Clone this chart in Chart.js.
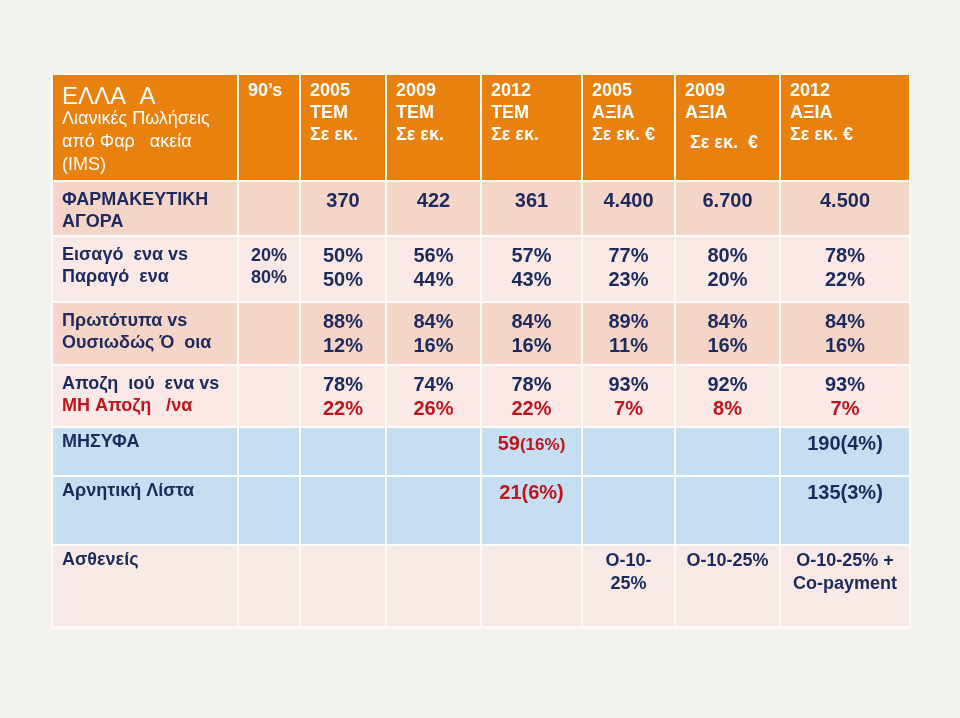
<!DOCTYPE html>
<html>
<head>
<meta charset="utf-8">
<title>Ελλάδα - Λιανικές Πωλήσεις από Φαρμακεία</title>
<script src="https://cdn.jsdelivr.net/npm/chart.js@4.4.1/dist/chart.umd.min.js"></script>
<style>
  html, body { margin: 0; padding: 0; background: #f4f3f0; }
  #wrap { width: 960px; height: 718px; }
</style>
</head>
<body>
<div id="wrap"><canvas id="table" width="960" height="718"></canvas></div>
<script>
// --- data ---
const titleLines = ["ΕΛΛΑ  Α", "Λιανικές Πωλήσεις", "από Φαρ   ακεία", "(IMS)"];
const periods = [
  "90’s",
  "2005\nTEM\nΣε εκ.",
  "2009\nTEM\nΣε εκ.",
  "2012\nTEM\nΣε εκ.",
  "2005\nΑΞΙΑ\nΣε εκ. €",
  "2009\nΑΞΙΑ\n Σε εκ.  €",
  "2012\nΑΞΙΑ\nΣε εκ. €",
];
const rowLabels = [
  ["ΦΑΡΜΑΚΕΥΤΙΚΗ", "ΑΓΟΡΑ"],
  ["Εισαγό  ενα vs", "Παραγό  ενα"],
  ["Πρωτότυπα vs", "Ουσιωδώς Ό  οια"],
  ["Αποζη  ιού  ενα vs", "ΜΗ Αποζη   /να"],
  ["ΜΗΣΥΦΑ"],
  ["Αρνητική Λίστα"],
  ["Ασθενείς"],
];
const marketSize = ["", "370", "422", "361", "4.400", "6.700", "4.500"];
const importedPct = [20, 50, 56, 57, 77, 80, 78];
const producedPct = [80, 50, 44, 43, 23, 20, 22];
const originalPct = [null, 88, 84, 84, 89, 84, 84];
const similarPct = [null, 12, 16, 16, 11, 16, 16];
const reimbursedPct = [null, 78, 74, 78, 93, 92, 93];
const nonReimbursedPct = [null, 22, 26, 22, 7, 8, 7];
const positiveListCount = [null, null, null, 59, null, null, 190];
const positiveListPct = [null, null, null, 16, null, null, 4];
const negativeListCount = [null, null, null, 21, null, null, 135];
const negativeListPct = [null, null, null, 6, null, null, 3];
const patientCopay = ["", "", "", "", "O-10-\n25%", "O-10-25%", "O-10-25% +\nCo-payment"];

// --- layout and style ---
const colWidths = [186, 62, 86, 95, 101, 93, 105, 130];
const rowHeights = [107, 55, 66, 63, 62, 49, 69, 82];
const ORANGE = "#e9810f";
const PINK_DARK = "#f6d5c9";
const PINK_LIGHT = "#fae9e6";
const BLUE = "#c4dff1";
const PINK_BOTTOM = "#faeae7";
const NAVY = "#1c2a5e";
const RED = "#c0141c";
const WHITE = "#ffffff";
const rowFills = [ORANGE, PINK_DARK, PINK_LIGHT, PINK_DARK, PINK_LIGHT, BLUE, BLUE, PINK_BOTTOM];
const listColors = [null, null, null, RED, null, null, NAVY];
const FAMILY = '"Liberation Sans", Arial, sans-serif';
const font = (size, bold) => `${bold ? "bold " : ""}${size}px ${FAMILY}`;

const colEdges = [0];
colWidths.forEach((w) => colEdges.push(colEdges[colEdges.length - 1] + w));
const rowEdges = [0];
rowHeights.forEach((h) => rowEdges.push(rowEdges[rowEdges.length - 1] + h));

function pct(v) {
  return v == null ? "" : `${v}%`;
}

function line(text, color, f) {
  return { parts: [{ text, color, font: f }] };
}

// every cell: row, col, alignment and lines of text
function buildCells() {
  const cells = [];

  cells.push({
    row: 0, col: 0, align: "left", top: 21, lh: 23,
    lines: titleLines.map((t, i) => line(t, WHITE, i === 0 ? font(24, false) : font(18, false))),
  });
  periods.forEach((p, i) => {
    const nudge = i === 5 ? [0, 0, 8] : [0, 0, 0];
    cells.push({
      row: 0, col: i + 1, align: "left", top: 16, lh: 22, nudge,
      lines: p.split("\n").map((t) => line(t, WHITE, font(18, true))),
    });
  });

  rowLabels.forEach((labels, r) => {
    cells.push({
      row: r + 1, col: 0, align: "left", top: r >= 4 ? 14 : 18, lh: 22,
      lines: labels.map((t, i) => line(t, r === 3 && i === 1 ? RED : NAVY, font(18, true))),
    });
  });

  const value = (t, color) => line(t, color || NAVY, font(20, true));
  const pairRow = (row, a, b, bColor) => {
    a.forEach((v, i) => {
      if (v == null) return;
      const f = i === 0 ? font(18, true) : font(20, true);
      cells.push({
        row, col: i + 1, align: "center", top: 19, lh: i === 0 ? 22 : 24,
        lines: [line(pct(v), NAVY, f), line(pct(b[i]), bColor, f)],
      });
    });
  };

  marketSize.forEach((v, i) => {
    if (!v) return;
    cells.push({ row: 1, col: i + 1, align: "center", top: 19, lh: 24, lines: [value(v)] });
  });
  pairRow(2, importedPct, producedPct, NAVY);
  pairRow(3, originalPct, similarPct, NAVY);
  pairRow(4, reimbursedPct, nonReimbursedPct, RED);

  positiveListCount.forEach((v, i) => {
    if (v == null) return;
    const color = listColors[i];
    const small = color === RED;
    cells.push({
      row: 5, col: i + 1, align: "center", top: 16, lh: 24,
      lines: [{ parts: [
        { text: String(v), color, font: font(20, true) },
        { text: `(${positiveListPct[i]}%)`, color, font: small ? font(17, true) : font(20, true) },
      ] }],
    });
  });
  negativeListCount.forEach((v, i) => {
    if (v == null) return;
    cells.push({
      row: 6, col: i + 1, align: "center", top: 16, lh: 24,
      lines: [value(`${v}(${negativeListPct[i]}%)`, listColors[i])],
    });
  });
  patientCopay.forEach((v, i) => {
    if (!v) return;
    cells.push({
      row: 7, col: i + 1, align: "center", top: 15, lh: 23,
      lines: v.split("\n").map((t) => line(t, NAVY, font(18, true))),
    });
  });
  return cells;
}

const cells = buildCells();

function cellBox(chart, row, col) {
  const x = chart.scales.x;
  const y = chart.scales.y;
  return {
    left: x.getPixelForValue(colEdges[col]),
    right: x.getPixelForValue(colEdges[col + 1]),
    top: y.getPixelForValue(rowEdges[row]),
    bottom: y.getPixelForValue(rowEdges[row + 1]),
  };
}

const tablePlugin = {
  id: "tablePlugin",
  beforeDatasetsDraw(chart) {
    const ctx = chart.ctx;
    const area = chart.chartArea;
    ctx.save();
    ctx.fillStyle = "#fdfbf8";
    ctx.fillRect(area.left - 1, area.top - 1, area.right - area.left + 2, area.bottom - area.top + 3);
    rowHeights.forEach((_, r) => {
      colWidths.forEach((__, c) => {
        const b = cellBox(chart, r, c);
        ctx.fillStyle = rowFills[r];
        ctx.fillRect(b.left + 1, b.top + 1, b.right - b.left - 2, b.bottom - b.top - 2);
      });
    });
    ctx.restore();
  },
  afterDatasetsDraw(chart) {
    const ctx = chart.ctx;
    ctx.save();
    ctx.textBaseline = "alphabetic";
    ctx.textAlign = "left";
    for (const cell of cells) {
      const b = cellBox(chart, cell.row, cell.col);
      cell.lines.forEach((ln, i) => {
        const mid = b.top + cell.top + i * cell.lh + (cell.nudge ? cell.nudge[i] : 0);
        // baseline from the first part's size so mixed sizes share one baseline
        const size = parseInt(ln.parts[0].font.match(/(\d+)px/)[1], 10);
        const y = mid + size * 0.36;
        let width = 0;
        for (const p of ln.parts) {
          ctx.font = p.font;
          width += ctx.measureText(p.text).width;
        }
        let x = cell.align === "center" ? (b.left + b.right) / 2 - width / 2 : b.left + 10;
        for (const p of ln.parts) {
          ctx.font = p.font;
          ctx.fillStyle = p.color;
          ctx.fillText(p.text, x, y);
          x += ctx.measureText(p.text).width;
        }
      });
    }
    ctx.restore();
  },
};

new Chart(document.getElementById("table"), {
  type: "bar",
  data: { datasets: [] },
  options: {
    responsive: false,
    animation: false,
    devicePixelRatio: 1,
    layout: { padding: { left: 52, top: 74, right: 50, bottom: 91 } },
    plugins: { legend: { display: false }, tooltip: { enabled: false } },
    scales: {
      x: { type: "linear", offset: false, min: 0, max: colEdges[colEdges.length - 1], display: false },
      y: { type: "linear", offset: false, min: 0, max: rowEdges[rowEdges.length - 1], reverse: true, display: false },
    },
  },
  plugins: [tablePlugin],
});
</script>
</body>
</html>
